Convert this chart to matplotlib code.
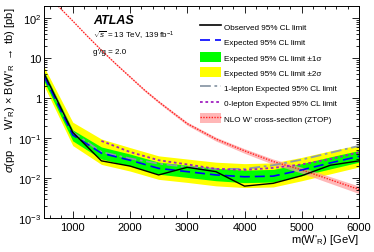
import matplotlib
matplotlib.use("Agg")
import matplotlib.pyplot as plt
import numpy as np
from matplotlib.patches import Patch
from matplotlib.lines import Line2D
from matplotlib.ticker import MultipleLocator, LogLocator, NullFormatter

# masses [GeV]
mass = [500, 1000, 1500, 2000, 2500, 3000, 3500, 4000, 4500, 5000, 5500, 6000]
observed = [4.1, 0.14, 0.027, 0.020, 0.012, 0.0186, 0.0145, 0.0063, 0.0074, 0.0115, 0.021, 0.027]
expected = [3.5, 0.12, 0.042, 0.028, 0.0175, 0.0145, 0.012, 0.0108, 0.0112, 0.016, 0.024, 0.035]
exp_p1 = [4.6, 0.16, 0.060, 0.040, 0.025, 0.021, 0.0175, 0.0158, 0.0165, 0.023, 0.034, 0.049]
exp_m1 = [2.6, 0.085, 0.030, 0.020, 0.0125, 0.0104, 0.0086, 0.0077, 0.008, 0.0115, 0.017, 0.025]
exp_p2 = [6.0, 0.25, 0.095, 0.058, 0.036, 0.030, 0.025, 0.023, 0.024, 0.033, 0.048, 0.068]
exp_m2 = [2.0, 0.065, 0.022, 0.015, 0.0093, 0.0078, 0.0064, 0.0058, 0.006, 0.0086, 0.0128, 0.019]

mass_1l = [500, 1000, 1500, 2000, 2500, 3000, 3500, 4000, 4500, 5000, 5500, 6000]
exp_1l = [4.0, 0.14, 0.045, 0.031, 0.023, 0.019, 0.017, 0.017, 0.021, 0.029, 0.043, 0.064]
mass_0l = [1500, 2000, 2500, 3000, 3500, 4000, 4500, 5000, 5500, 6000]
exp_0l = [0.085, 0.045, 0.028, 0.022, 0.017, 0.016, 0.018, 0.022, 0.030, 0.044]

mass_th = [744, 1000, 1250, 1500, 1750, 2000, 2250, 2500, 2750, 3000, 3500, 4000, 4500, 5000, 5500, 6000]
xsec_th = [200, 85, 36, 15.8, 7.2, 3.4, 1.6, 0.81, 0.43, 0.23, 0.095, 0.048, 0.026, 0.016, 0.0091, 0.0052]
xsec_unc = [0.02, 0.02, 0.03, 0.03, 0.04, 0.05, 0.06, 0.07, 0.08, 0.09, 0.11, 0.13, 0.15, 0.17, 0.19, 0.21]

plt.rcParams["font.family"] = "Liberation Sans"
plt.rcParams["mathtext.fontset"] = "custom"
plt.rcParams["mathtext.rm"] = "Liberation Sans"
plt.rcParams["mathtext.it"] = "Liberation Sans:italic"

fig = plt.figure(figsize=(3.74, 2.53), dpi=100)
ax = fig.add_axes([0.118, 0.134, 0.842, 0.838])

ax.fill_between(mass, exp_m2, exp_p2, color="#ffff00", lw=0)
ax.fill_between(mass, exp_m1, exp_p1, color="#00ff00", lw=0)

th = np.array(xsec_th)
unc = np.array(xsec_unc)
ax.fill_between(mass_th, th * (1 - unc), th * (1 + unc), color="#ff9999", alpha=0.7, lw=0)
ax.plot(mass_th, xsec_th, color="#ff2020", ls=(0, (1, 1)), lw=1.0)

ax.plot(mass_1l, exp_1l, color="#8c9aa8", ls=(0, (6, 2, 1.5, 2)), lw=1.3)
ax.plot(mass_0l, exp_0l, color="#a020c0", ls=(0, (1.5, 1.5)), lw=1.3)
ax.plot(mass, expected, color="#0000ff", ls=(0, (6, 3)), lw=1.2)
ax.plot(mass, observed, color="black", lw=1.0)

ax.set_yscale("log")
ax.set_xlim(500, 6000)
ax.set_ylim(1e-3, 200)

ax.xaxis.set_major_locator(MultipleLocator(1000))
ax.xaxis.set_minor_locator(MultipleLocator(200))
ax.yaxis.set_minor_locator(LogLocator(base=10, subs=np.arange(2, 10), numticks=20))
ax.yaxis.set_minor_formatter(NullFormatter())
ax.tick_params(which="both", direction="in", top=True, right=True, labelsize=8)
ax.tick_params(which="major", length=5, width=0.6)
ax.tick_params(which="minor", length=2.5, width=0.6)
ax.tick_params(axis="x", pad=3)
ax.tick_params(axis="y", pad=2)
for s in ax.spines.values():
    s.set_linewidth(0.7)

ax.set_yticks([1e-3, 1e-2, 1e-1, 1, 10, 100])
ax.set_yticklabels(["$10^{-3}$", "$10^{-2}$", "$10^{-1}$", "1", "10", "$10^{2}$"])

ax.set_xlabel("m(W'$_{\\mathrm{R}}$) [GeV]", fontsize=8, loc="right", labelpad=0)
ax.set_ylabel("$\\sigma$(pp $\\rightarrow$ W'$_{\\mathrm{R}}$) $\\times$ B(W'$_{\\mathrm{R}}$ $\\rightarrow$ tb) [pb]",
              fontsize=8, loc="top", labelpad=1)

ax.text(0.155, 0.935, "ATLAS", transform=ax.transAxes, fontsize=9, fontweight="bold",
        fontstyle="italic", va="center")
ax.text(0.155, 0.862, "$\\sqrt{s}$ = 13 TeV, 139 fb$^{-1}$", transform=ax.transAxes,
        fontsize=5.8, va="center")
ax.text(0.155, 0.788, "g'/g = 2.0", transform=ax.transAxes, fontsize=5.8, va="center")

handles = [
    Line2D([], [], color="black", lw=1.2),
    Line2D([], [], color="#0000ff", ls=(0, (6, 3)), lw=1.2),
    Patch(facecolor="#00ff00", lw=0),
    Patch(facecolor="#ffff00", lw=0),
    Line2D([], [], color="#8c9aa8", ls=(0, (6, 2, 1.5, 2)), lw=1.3),
    Line2D([], [], color="#a020c0", ls=(0, (1.5, 1.5)), lw=1.3),
    (Patch(facecolor="#ff9999", alpha=0.7, lw=0), Line2D([], [], color="#ff2020", ls=(0, (1, 1)), lw=1.0)),
]
labels = [
    "Observed 95% CL limit",
    "Expected 95% CL limit",
    "Expected 95% CL limit \u00b11\u03c3",
    "Expected 95% CL limit \u00b12\u03c3",
    "1-lepton Expected 95% CL limit",
    "0-lepton Expected 95% CL limit",
    "NLO W' cross-section (ZTOP)",
]
ax.legend(handles, labels, loc="upper left", bbox_to_anchor=(0.495, 0.928), frameon=False,
          fontsize=5.9, handlelength=2.6, handleheight=1.45, labelspacing=0.68,
          handletextpad=0.3, borderaxespad=0, borderpad=0)

fig.savefig("out.png", dpi=100)
